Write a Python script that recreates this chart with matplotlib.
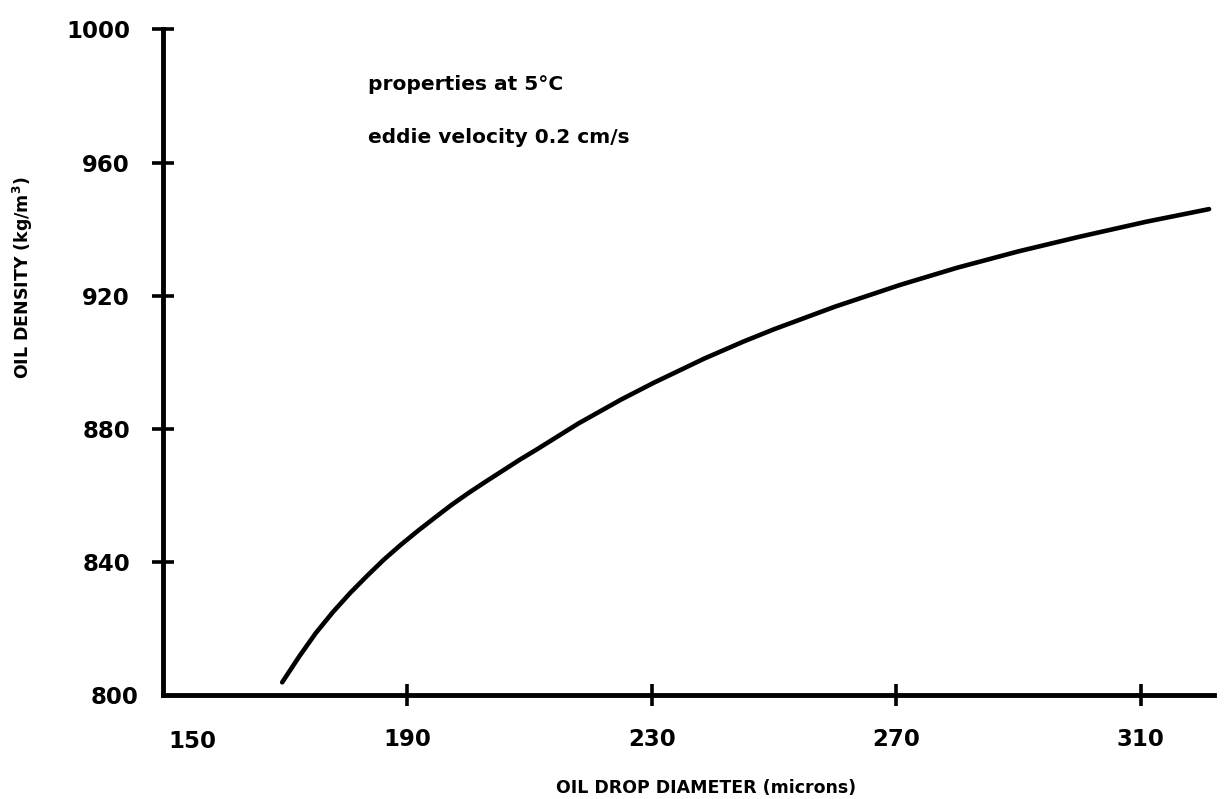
import matplotlib.pyplot as plt
from matplotlib.transforms import ScaledTranslation

# oil drop diameter (microns) vs oil density (kg/m3)
diameter = [169.5, 172.3, 175.0, 177.8, 180.6, 183.4, 186.1, 188.9, 191.7,
            194.5, 197.2, 200.0, 202.8, 205.6, 208.3, 211.1, 218.0, 225.0,
            230.3, 238.6, 245.0, 250.0, 260.0, 270.6, 280.0, 290.0, 300.0,
            310.9, 321.2]
density = [803.8, 811.6, 818.6, 824.9, 830.6, 835.8, 840.6, 845.1, 849.3,
           853.3, 857.1, 860.7, 864.1, 867.4, 870.6, 873.7, 881.6, 888.8,
           893.8, 901.1, 906.2, 909.9, 916.7, 923.2, 928.4, 933.3, 937.7,
           942.2, 946.0]

x_ticks = [150, 190, 230, 270, 310]
y_ticks = [800, 840, 880, 920, 960, 1000]

notes = ["properties at 5°C", "eddie velocity 0.2 cm/s"]

fig = plt.figure(figsize=(12.24, 7.99), dpi=100)
ax = fig.add_axes([0.1332, 0.1302, 0.8586, 0.833])

ax.plot(diameter, density, color="black", lw=3.3, solid_capstyle="round",
        solid_joinstyle="round")

ax.set_xlim(150, 322)
ax.set_ylim(800, 1000)
for side in ["top", "right"]:
    ax.spines[side].set_visible(False)
for side in ["left", "bottom"]:
    ax.spines[side].set_linewidth(3.5)
    ax.spines[side].set_capstyle("projecting")

ax.set_xticks(x_ticks)
ax.set_yticks(y_ticks)
ax.tick_params(direction="inout", length=16.5, width=2.6, pad=15.5,
               labelsize=16.5)
for lab in ax.get_xticklabels() + ax.get_yticklabels():
    lab.set_fontweight("bold")

# no tick marks at the corner, and the two corner labels sit apart
ax.xaxis.get_major_ticks()[0].tick1line.set_visible(False)
ax.yaxis.get_major_ticks()[0].tick1line.set_visible(False)
xlab0 = ax.xaxis.get_major_ticks()[0].label1
xlab0.set_transform(xlab0.get_transform()
                    + ScaledTranslation(29 / 100, -2 / 100, fig.dpi_scale_trans))
ylab0 = ax.yaxis.get_major_ticks()[0].label1
ylab0.set_transform(ylab0.get_transform()
                    + ScaledTranslation(8 / 100, 0, fig.dpi_scale_trans))

ax.set_xlabel("OIL DROP DIAMETER (microns)", fontsize=12.5, fontweight="bold")
ax.xaxis.set_label_coords(0.517, -0.126)
ax.set_ylabel(r"OIL DENSITY (kg/m$^{\mathbf{3}}$)", fontsize=12.5,
              fontweight="bold")
ax.yaxis.set_label_coords(-0.122, 0.627)

ax.text(0.195, 0.917, notes[0], transform=ax.transAxes, fontsize=14.5,
        fontweight="bold", va="center", ha="left")
ax.text(0.195, 0.838, notes[1], transform=ax.transAxes, fontsize=14.5,
        fontweight="bold", va="center", ha="left")

fig.savefig("out.png", dpi=100, facecolor="white")
